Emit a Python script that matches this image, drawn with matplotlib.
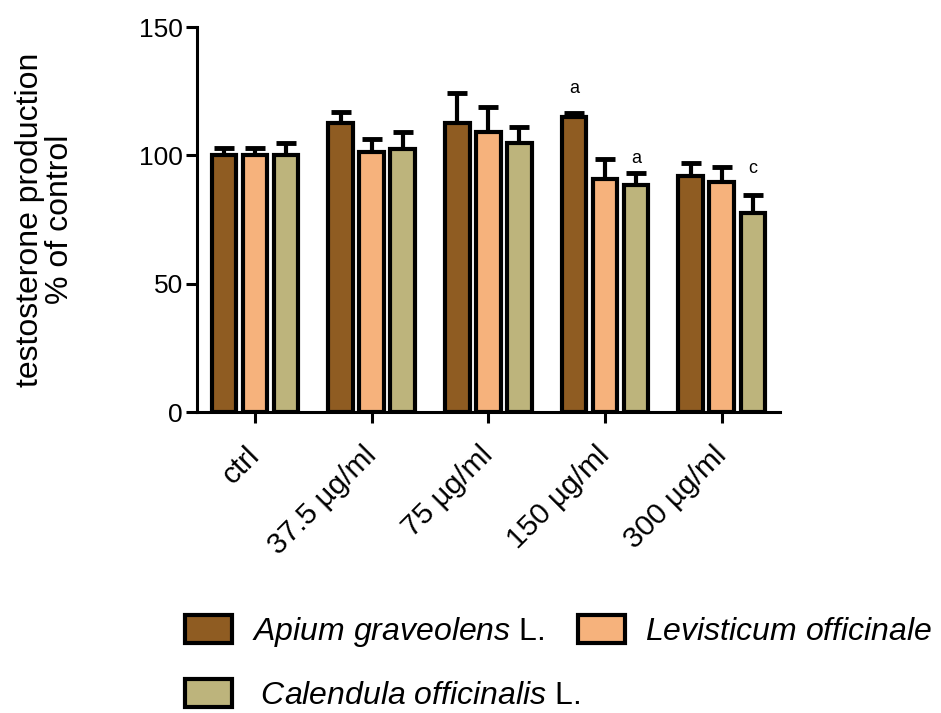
import numpy as np
import matplotlib
matplotlib.use("Agg")
import matplotlib.pyplot as plt

plt.rcParams['font.family'] = ['Liberation Sans', 'DejaVu Sans']
plt.rcParams['mathtext.fontset'] = 'custom'
plt.rcParams['mathtext.it'] = 'Liberation Sans:italic'
plt.rcParams['mathtext.rm'] = 'Liberation Sans'

# -------------- Data --------------
groups = ['ctrl', '37.5 µg/ml', '75 µg/ml', '150 µg/ml', '300 µg/ml']
apium = [100, 112.5, 112.5, 115, 92]
apium_err = [3, 4.5, 12, 1.5, 5]
levisticum = [100, 101.5, 109, 91, 89.5]
levisticum_err = [3, 5, 10, 7.5, 6]
calendula = [100, 102.5, 105, 88.5, 77.5]
calendula_err = [5, 6.5, 6, 4.7, 7]
series_names = [r'$\it{Apium\ graveolens}$ L.', r'$\it{Levisticum\ officinale}$',
                r' $\it{Calendula\ officinalis}$ L.']
colors = ['#8F5C22', '#F6B27C', '#BDB47C']
# significance letters: (group index, series index, letter, y value)
marks = [(3, 0, 'a', 126), (3, 2, 'a', 99), (4, 2, 'c', 95)]

# -------------- Plot --------------
fig = plt.figure(figsize=(9.41, 7.13), dpi=100)
ax = fig.add_axes([0.209, 0.422, 0.62, 0.540])

x = np.arange(len(groups))
pitch = 0.266
width = 0.21
values = [apium, levisticum, calendula]
errors = [apium_err, levisticum_err, calendula_err]
handles = []
for i in range(3):
    pos = x + (i - 1) * pitch
    b = ax.bar(pos, values[i], width, color=colors[i], edgecolor='black',
               linewidth=3, label=series_names[i], zorder=3)
    handles.append(b)
    ax.errorbar(pos, values[i], yerr=[np.zeros(len(groups)), errors[i]], fmt='none',
                ecolor='black', elinewidth=3, capsize=7.5, capthick=3.5, zorder=2)

for g, s, letter, ypos in marks:
    ax.text(x[g] + (s - 1) * pitch, ypos, letter, ha='center', va='center', fontsize=13)

ax.set_xlim(-0.5, 4.5)
ax.set_ylim(0, 150)
ax.set_yticks([0, 50, 100, 150])
ax.set_xticks(x)
ax.set_xticklabels(groups, rotation=45, ha='right', va='center', rotation_mode='anchor', fontsize=21.5)
ax.tick_params(axis='y', labelsize=19, width=2.2, length=8, pad=2)
ax.tick_params(axis='x', width=2.2, length=8, pad=20)
for side in ['top', 'right']:
    ax.spines[side].set_visible(False)
for side in ['left', 'bottom']:
    ax.spines[side].set_linewidth(2.2)
ax.set_ylabel('testosterone production\n% of control', fontsize=23, linespacing=1.0)
ax.yaxis.set_label_coords(-0.208, 0.5)

# legend rows: Apium + Levisticum on top, Calendula below
fig.legend([handles[0], handles[1]], [series_names[0], series_names[1]],
           ncol=2, loc='center left', bbox_to_anchor=(0.197, 1 - 632 / 713),
           frameon=False, fontsize=23, handlelength=1.45, handleheight=0.95,
           borderpad=0, borderaxespad=0, columnspacing=1.05, handletextpad=0.65)
fig.legend([handles[2]], [series_names[2]],
           loc='center left', bbox_to_anchor=(0.197, 1 - 695 / 713),
           frameon=False, fontsize=23, handlelength=1.45, handleheight=0.95,
           borderpad=0, borderaxespad=0, handletextpad=0.65)

plt.savefig('out.png', dpi=100)
